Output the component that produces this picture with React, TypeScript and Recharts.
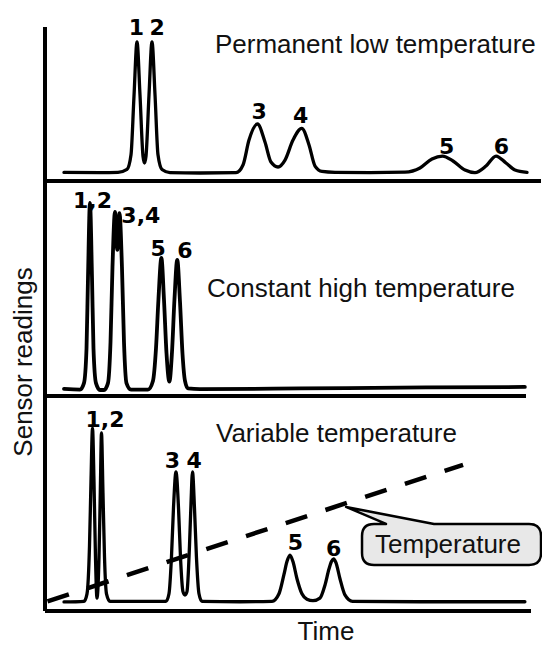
import React from 'react';
import { ComposedChart, Line, Scatter, XAxis, YAxis, ReferenceDot, Customized } from 'recharts';

// ---------- Panel 1: permanent low temperature ----------
const lowTime = [3.83, 11.09, 14.72, 16.53, 17.34, 17.94, 18.55, 19.15, 19.76, 20.06, 20.36, 20.97, 21.57, 22.18, 22.78, 23.59, 25.2, 31.25, 38.51, 39.92, 41.13, 42.84, 44.35, 45.56, 46.98, 48.39, 50, 51.77, 53.23, 54.44, 55.85, 58.47, 65.52, 72.58, 75.6, 78.02, 80.14, 82.26, 84.68, 86.69, 88.91, 90.93, 92.94, 94.76, 97.18];
const lowReading = [5.6, 5.4, 5.6, 7.5, 17, 55, 90.3, 56, 16, 11.7, 16, 56, 90.3, 56, 17, 7.5, 5.5, 5.2, 5.4, 10.4, 26.6, 37, 25.3, 12.3, 9.1, 13.6, 26.6, 34.2, 23.4, 9.7, 6.2, 5.6, 5.4, 5.7, 8.4, 14.3, 16.2, 13, 7.1, 5.4, 9.7, 16.2, 11.7, 7.1, 5.6];
const lowLabelText = ['1', '2', '3', '4', '5', '6'];
const lowLabelTime = [18.45, 22.6, 43.2, 51.55, 81, 92];
const lowLabelReading = [94.8, 94.8, 40, 37.5, 17.5, 17.5];

// ---------- Panel 2: constant high temperature ----------
const highTime = [3.83, 7.06, 7.86, 8.37, 8.67, 9.07, 9.48, 9.78, 10.28, 11.09, 11.9, 12.7, 13.21, 13.61, 14.11, 14.58, 15.02, 15.52, 15.93, 16.43, 17.34, 20.77, 21.77, 22.38, 22.88, 23.47, 23.99, 24.5, 25.08, 25.6, 26.11, 26.67, 27.22, 27.72, 28.23, 28.83, 31.25, 51.41, 71.57, 96.77];
const highReading = [3.3, 3.0, 6, 22, 55, 89.8, 55, 22, 6, 2.8, 2.8, 6, 25, 60, 85.6, 68, 85.1, 60, 25, 6, 3, 3, 7, 22, 45, 64.2, 45, 20, 6.7, 20, 45, 63.3, 44, 20, 7, 3.5, 3.2, 3.5, 3.9, 4.2];
const highLabelText = ['1,2', '3,4', '5', '6'];
const highLabelTime = [9.58, 19.33, 22.8, 28.2];
const highLabelReading = [87.3, 80.3, 65.1, 64];

// ---------- Panel 3: variable temperature ----------
const varTime = [3.83, 7.86, 8.47, 8.97, 9.27, 9.58, 9.88, 10.18, 10.48, 10.89, 11.15, 11.39, 11.69, 12.0, 12.4, 13.1, 24.4, 25.0, 25.5, 25.91, 26.41, 26.92, 27.32, 27.82, 28.23, 28.63, 29.13, 29.44, 29.74, 30.14, 30.54, 31.05, 31.65, 39.31, 45.77, 47.18, 48.19, 48.79, 49.4, 50, 50.81, 51.81, 52.82, 54.03, 55.44, 56.45, 57.26, 57.76, 58.19, 58.67, 59.48, 60.48, 62.02, 75.6, 96.77];
const varReading = [4.2, 4.5, 8, 30, 60, 85.1, 60, 25, 6, 25, 55, 82.8, 55, 25, 8, 4.5, 4.5, 8, 25, 48, 64.7, 48, 25, 9, 7.4, 9, 30, 50, 64.7, 48, 25, 8, 4.5, 4.3, 4.5, 8, 17, 23, 26, 23, 15, 8, 5.5, 4.8, 6, 12, 19.5, 23, 24.2, 22.5, 15, 7.5, 4.5, 4.3, 4.3];
const varLabelText = ['1,2', '3', '4', '5', '6'];
const varLabelTime = [12.1, 25.7, 30.1, 50.5, 58.2];
const varLabelReading = [85.6, 66.5, 66.5, 28.4, 25.6];

// temperature programme (dashed ramp) and its callout anchor
const tempTime = [0.5, 84.3];
const tempValue = [4.5, 68];
const calloutTime = 60.7;
const calloutValue = 48.4;

const panelTitles = ['Permanent low temperature', 'Constant high temperature', 'Variable temperature'];
const axisTitleY = 'Sensor readings';
const axisTitleX = 'Time';
const calloutText = 'Temperature';

const TEXT_FONT = "'Liberation Sans', Arial, Helvetica, sans-serif";
const DIGIT_FONT = "'DejaVu Sans', Verdana, sans-serif";

const zipSeries = (t: number[], r: number[]) => t.map((v, i) => ({ t: v, r: r[i] }));
const zipLabels = (txt: string[], t: number[], r: number[]) => txt.map((s, i) => ({ t: t[i], r: r[i], text: s }));

const LabelShape = (p: any) => (
  <text x={p.cx} y={p.cy} textAnchor="middle" fontFamily={DIGIT_FONT} fontWeight="bold" fontSize={22} fill="#000">
    {p.payload.text}
  </text>
);

const Callout = (p: any) => {
  const { cx, cy } = p;
  const L = cx + 16, R = cx + 195, T = cy + 17, B = cy + 58, rad = 12;
  const d = `M ${L + rad} ${T} L ${cx + 40} ${T} L ${cx} ${cy} L ${cx + 88} ${T} L ${R - rad} ${T} Q ${R} ${T} ${R} ${T + rad} L ${R} ${B - rad} Q ${R} ${B} ${R - rad} ${B} L ${L + rad} ${B} Q ${L} ${B} ${L} ${B - rad} L ${L} ${T + rad} Q ${L} ${T} ${L + rad} ${T} Z`;
  return (
    <g>
      <path d={d} fill="#e8e8e8" stroke="#000" strokeWidth={2.5} strokeLinejoin="round" />
      <text x={cx + 102} y={cy + 46} textAnchor="middle" fontFamily={TEXT_FONT} fontSize={26} fill="#111">
        {calloutText}
      </text>
    </g>
  );
};

const AXIS_LINE = { stroke: '#000', strokeWidth: 4 };

type PanelProps = {
  top: number;
  height: number;
  margin: { top: number; right: number; bottom: number; left: number };
  domainMax: number;
  series: { t: number; r: number }[];
  labels: { t: number; r: number; text: string }[];
  title: string;
  titleX: number;
  titleY: number;
  strokeWidth: number;
  extra?: React.ReactNode;
};

const Panel = ({ top, height, margin, domainMax, series, labels, title, titleX, titleY, strokeWidth, extra }: PanelProps) => (
  <div style={{ position: 'absolute', left: 0, top, width: 542, height }}>
    <ComposedChart width={542} height={height} margin={margin}>
      <XAxis type="number" dataKey="t" domain={[0, domainMax]} ticks={[0]} height={1} tick={false} tickLine={false} axisLine={AXIS_LINE} />
      <YAxis type="number" domain={[0, 100]} ticks={[0]} width={1} tick={false} tickLine={false} axisLine={AXIS_LINE} />
      <Line data={series} dataKey="r" type="monotone" stroke="#000" strokeWidth={strokeWidth} dot={false} isAnimationActive={false} strokeLinejoin="round" strokeLinecap="round" />
      {extra}
      <Scatter data={labels} dataKey="r" shape={LabelShape} isAnimationActive={false} />
      <Customized
        component={() => (
          <text x={titleX} y={titleY} fontFamily={TEXT_FONT} fontSize={26} fill="#111">
            {title}
          </text>
        )}
      />
    </ComposedChart>
  </div>
);

export default function App() {
  const lowSeries = zipSeries(lowTime, lowReading);
  const highSeries = zipSeries(highTime, highReading);
  const varSeries = zipSeries(varTime, varReading);
  const tempSeries = tempTime.map((t, i) => ({ t, r: tempValue[i] }));

  return (
    <div style={{ position: 'absolute', left: 0, top: 0, width: 542, height: 648, background: '#fff', overflow: 'hidden' }}>
      <Panel
        top={0}
        height={186}
        margin={{ top: 27, right: 1, bottom: 4, left: 44 }}
        domainMax={100}
        series={lowSeries}
        labels={zipLabels(lowLabelText, lowLabelTime, lowLabelReading)}
        title={panelTitles[0]}
        titleX={215}
        titleY={53}
        strokeWidth={3.3}
      />
      <Panel
        top={150}
        height={250}
        margin={{ top: 31, right: 16, bottom: 3, left: 44 }}
        domainMax={97}
        series={highSeries}
        labels={zipLabels(highLabelText, highLabelTime, highLabelReading)}
        title={panelTitles[1]}
        titleX={207}
        titleY={147.3}
        strokeWidth={3.8}
      />
      <Panel
        top={380}
        height={240}
        margin={{ top: 16, right: 11, bottom: 8, left: 44 }}
        domainMax={98}
        series={varSeries}
        labels={zipLabels(varLabelText, varLabelTime, varLabelReading)}
        title={panelTitles[2]}
        titleX={216}
        titleY={61.7}
        strokeWidth={3.3}
        extra={[
          <Line key="temp" data={tempSeries} dataKey="r" type="linear" stroke="#000" strokeWidth={4.5} strokeDasharray="22.5 19.3" dot={false} isAnimationActive={false} />,
          <ReferenceDot key="callout" x={calloutTime} y={calloutValue} r={0} shape={Callout} />,
        ]}
      />
      <svg width={542} height={648} style={{ position: 'absolute', left: 0, top: 0, pointerEvents: 'none' }}>
        <text x={23} y={362} transform="rotate(-90 23 362)" textAnchor="middle" dominantBaseline="central" fontFamily={TEXT_FONT} fontSize={26} fill="#111">
          {axisTitleY}
        </text>
        <text x={326} y={640} textAnchor="middle" fontFamily={TEXT_FONT} fontSize={26} fill="#111">
          {axisTitleX}
        </text>
      </svg>
    </div>
  );
}
